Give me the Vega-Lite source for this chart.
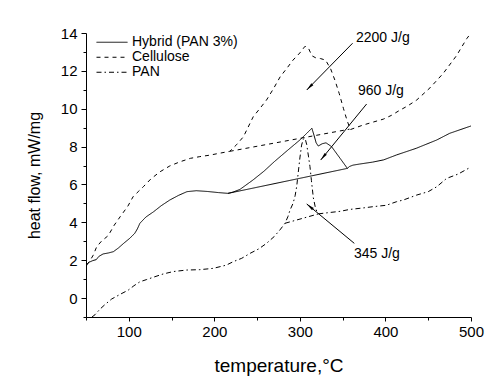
{
  "$schema": "https://vega.github.io/schema/vega-lite/v6.json",
  "width": 385,
  "height": 284,
  "autosize": {"type": "none"},
  "padding": {"left": 86, "top": 33, "right": 28, "bottom": 74},
  "background": "white",
  "config": {
    "view": {"stroke": null},
    "font": "Liberation Sans",
    "axis": {"grid": false, "domainColor": "black", "tickColor": "black", "labelColor": "black", "titleColor": "black", "titleFontWeight": "normal", "labelFont": "Liberation Sans", "titleFont": "Liberation Sans"}
  },
  "datasets": {
    "curves": [
      {"series": "Hybrid (PAN 3%)", "part": "curve", "x": 50, "y": 1.55},
      {"series": "Hybrid (PAN 3%)", "part": "curve", "x": 51, "y": 1.8},
      {"series": "Hybrid (PAN 3%)", "part": "curve", "x": 54, "y": 1.9},
      {"series": "Hybrid (PAN 3%)", "part": "curve", "x": 58, "y": 1.98},
      {"series": "Hybrid (PAN 3%)", "part": "curve", "x": 62, "y": 2.03},
      {"series": "Hybrid (PAN 3%)", "part": "curve", "x": 65, "y": 2.2},
      {"series": "Hybrid (PAN 3%)", "part": "curve", "x": 70, "y": 2.33},
      {"series": "Hybrid (PAN 3%)", "part": "curve", "x": 76, "y": 2.38},
      {"series": "Hybrid (PAN 3%)", "part": "curve", "x": 82, "y": 2.45},
      {"series": "Hybrid (PAN 3%)", "part": "curve", "x": 88, "y": 2.65},
      {"series": "Hybrid (PAN 3%)", "part": "curve", "x": 94, "y": 2.89},
      {"series": "Hybrid (PAN 3%)", "part": "curve", "x": 101, "y": 3.15},
      {"series": "Hybrid (PAN 3%)", "part": "curve", "x": 107, "y": 3.42},
      {"series": "Hybrid (PAN 3%)", "part": "curve", "x": 110, "y": 3.65},
      {"series": "Hybrid (PAN 3%)", "part": "curve", "x": 113, "y": 3.95},
      {"series": "Hybrid (PAN 3%)", "part": "curve", "x": 120, "y": 4.28},
      {"series": "Hybrid (PAN 3%)", "part": "curve", "x": 129, "y": 4.56},
      {"series": "Hybrid (PAN 3%)", "part": "curve", "x": 138, "y": 4.88},
      {"series": "Hybrid (PAN 3%)", "part": "curve", "x": 148, "y": 5.18},
      {"series": "Hybrid (PAN 3%)", "part": "curve", "x": 158, "y": 5.42},
      {"series": "Hybrid (PAN 3%)", "part": "curve", "x": 168, "y": 5.62},
      {"series": "Hybrid (PAN 3%)", "part": "curve", "x": 179, "y": 5.67},
      {"series": "Hybrid (PAN 3%)", "part": "curve", "x": 192, "y": 5.63},
      {"series": "Hybrid (PAN 3%)", "part": "curve", "x": 205, "y": 5.57},
      {"series": "Hybrid (PAN 3%)", "part": "curve", "x": 216, "y": 5.53},
      {"series": "Hybrid (PAN 3%)", "part": "curve", "x": 222, "y": 5.6},
      {"series": "Hybrid (PAN 3%)", "part": "curve", "x": 230, "y": 5.74},
      {"series": "Hybrid (PAN 3%)", "part": "curve", "x": 245, "y": 6.23},
      {"series": "Hybrid (PAN 3%)", "part": "curve", "x": 258, "y": 6.7},
      {"series": "Hybrid (PAN 3%)", "part": "curve", "x": 270, "y": 7.2},
      {"series": "Hybrid (PAN 3%)", "part": "curve", "x": 285, "y": 7.78},
      {"series": "Hybrid (PAN 3%)", "part": "curve", "x": 300, "y": 8.35},
      {"series": "Hybrid (PAN 3%)", "part": "curve", "x": 308, "y": 8.7},
      {"series": "Hybrid (PAN 3%)", "part": "curve", "x": 314, "y": 8.97},
      {"series": "Hybrid (PAN 3%)", "part": "curve", "x": 316.5, "y": 8.6},
      {"series": "Hybrid (PAN 3%)", "part": "curve", "x": 319, "y": 8.2},
      {"series": "Hybrid (PAN 3%)", "part": "curve", "x": 321.5, "y": 8.03},
      {"series": "Hybrid (PAN 3%)", "part": "curve", "x": 326, "y": 8.15},
      {"series": "Hybrid (PAN 3%)", "part": "curve", "x": 330.5, "y": 8.2},
      {"series": "Hybrid (PAN 3%)", "part": "curve", "x": 337, "y": 8.0},
      {"series": "Hybrid (PAN 3%)", "part": "curve", "x": 347, "y": 7.38},
      {"series": "Hybrid (PAN 3%)", "part": "curve", "x": 355.5, "y": 6.85},
      {"series": "Hybrid (PAN 3%)", "part": "curve", "x": 358, "y": 6.95},
      {"series": "Hybrid (PAN 3%)", "part": "curve", "x": 362, "y": 7.02},
      {"series": "Hybrid (PAN 3%)", "part": "curve", "x": 370, "y": 7.08},
      {"series": "Hybrid (PAN 3%)", "part": "curve", "x": 385, "y": 7.18},
      {"series": "Hybrid (PAN 3%)", "part": "curve", "x": 398, "y": 7.3},
      {"series": "Hybrid (PAN 3%)", "part": "curve", "x": 413, "y": 7.56},
      {"series": "Hybrid (PAN 3%)", "part": "curve", "x": 436, "y": 7.91},
      {"series": "Hybrid (PAN 3%)", "part": "curve", "x": 460, "y": 8.35},
      {"series": "Hybrid (PAN 3%)", "part": "curve", "x": 475, "y": 8.7},
      {"series": "Hybrid (PAN 3%)", "part": "curve", "x": 500, "y": 9.09},
      {"series": "Hybrid (PAN 3%)", "part": "base", "x": 216, "y": 5.53},
      {"series": "Hybrid (PAN 3%)", "part": "base", "x": 355.5, "y": 6.85},

      {"series": "Cellulose", "part": "curve", "x": 51, "y": 1.75},
      {"series": "Cellulose", "part": "curve", "x": 55, "y": 2.0},
      {"series": "Cellulose", "part": "curve", "x": 58.5, "y": 2.27},
      {"series": "Cellulose", "part": "curve", "x": 62.5, "y": 2.71},
      {"series": "Cellulose", "part": "curve", "x": 68, "y": 3.0},
      {"series": "Cellulose", "part": "curve", "x": 76, "y": 3.3},
      {"series": "Cellulose", "part": "curve", "x": 83, "y": 3.85},
      {"series": "Cellulose", "part": "curve", "x": 90, "y": 4.3},
      {"series": "Cellulose", "part": "curve", "x": 99, "y": 4.86},
      {"series": "Cellulose", "part": "curve", "x": 105, "y": 5.35},
      {"series": "Cellulose", "part": "curve", "x": 111, "y": 5.62},
      {"series": "Cellulose", "part": "curve", "x": 117, "y": 5.88},
      {"series": "Cellulose", "part": "curve", "x": 126, "y": 6.3},
      {"series": "Cellulose", "part": "curve", "x": 136.5, "y": 6.67},
      {"series": "Cellulose", "part": "curve", "x": 148, "y": 6.98},
      {"series": "Cellulose", "part": "curve", "x": 160, "y": 7.2},
      {"series": "Cellulose", "part": "curve", "x": 172, "y": 7.38},
      {"series": "Cellulose", "part": "curve", "x": 183, "y": 7.47},
      {"series": "Cellulose", "part": "curve", "x": 195, "y": 7.55},
      {"series": "Cellulose", "part": "curve", "x": 205, "y": 7.64},
      {"series": "Cellulose", "part": "curve", "x": 218, "y": 7.75},
      {"series": "Cellulose", "part": "curve", "x": 226, "y": 8.1},
      {"series": "Cellulose", "part": "curve", "x": 234, "y": 8.52},
      {"series": "Cellulose", "part": "curve", "x": 245.5, "y": 9.58},
      {"series": "Cellulose", "part": "curve", "x": 253, "y": 10.0},
      {"series": "Cellulose", "part": "curve", "x": 261, "y": 10.46},
      {"series": "Cellulose", "part": "curve", "x": 269, "y": 11.05},
      {"series": "Cellulose", "part": "curve", "x": 277, "y": 11.69},
      {"series": "Cellulose", "part": "curve", "x": 285, "y": 12.15},
      {"series": "Cellulose", "part": "curve", "x": 292, "y": 12.57},
      {"series": "Cellulose", "part": "curve", "x": 300, "y": 12.95},
      {"series": "Cellulose", "part": "curve", "x": 306, "y": 13.3},
      {"series": "Cellulose", "part": "curve", "x": 310, "y": 13.2},
      {"series": "Cellulose", "part": "curve", "x": 314, "y": 12.8},
      {"series": "Cellulose", "part": "curve", "x": 318, "y": 12.7},
      {"series": "Cellulose", "part": "curve", "x": 324, "y": 12.65},
      {"series": "Cellulose", "part": "curve", "x": 330, "y": 12.57},
      {"series": "Cellulose", "part": "curve", "x": 336, "y": 12.1},
      {"series": "Cellulose", "part": "curve", "x": 341, "y": 11.5},
      {"series": "Cellulose", "part": "curve", "x": 346, "y": 10.8},
      {"series": "Cellulose", "part": "curve", "x": 351, "y": 10.0},
      {"series": "Cellulose", "part": "curve", "x": 355, "y": 9.4},
      {"series": "Cellulose", "part": "curve", "x": 359, "y": 8.9},
      {"series": "Cellulose", "part": "curve", "x": 374, "y": 9.14},
      {"series": "Cellulose", "part": "curve", "x": 386, "y": 9.3},
      {"series": "Cellulose", "part": "curve", "x": 397.5, "y": 9.45},
      {"series": "Cellulose", "part": "curve", "x": 407, "y": 9.65},
      {"series": "Cellulose", "part": "curve", "x": 416, "y": 9.9},
      {"series": "Cellulose", "part": "curve", "x": 426, "y": 10.15},
      {"series": "Cellulose", "part": "curve", "x": 436.5, "y": 10.46},
      {"series": "Cellulose", "part": "curve", "x": 452, "y": 11.1},
      {"series": "Cellulose", "part": "curve", "x": 467.6, "y": 11.87},
      {"series": "Cellulose", "part": "curve", "x": 483, "y": 12.8},
      {"series": "Cellulose", "part": "curve", "x": 495, "y": 13.7},
      {"series": "Cellulose", "part": "curve", "x": 500, "y": 14.0},
      {"series": "Cellulose", "part": "base", "x": 218, "y": 7.75},
      {"series": "Cellulose", "part": "base", "x": 358, "y": 8.92},

      {"series": "PAN", "part": "curve", "x": 57, "y": -1.0},
      {"series": "PAN", "part": "curve", "x": 60.5, "y": -0.88},
      {"series": "PAN", "part": "curve", "x": 66, "y": -0.6},
      {"series": "PAN", "part": "curve", "x": 72, "y": -0.35},
      {"series": "PAN", "part": "curve", "x": 80, "y": -0.05},
      {"series": "PAN", "part": "curve", "x": 90, "y": 0.2},
      {"series": "PAN", "part": "curve", "x": 99.4, "y": 0.42},
      {"series": "PAN", "part": "curve", "x": 106, "y": 0.65},
      {"series": "PAN", "part": "curve", "x": 113, "y": 0.86},
      {"series": "PAN", "part": "curve", "x": 121, "y": 0.98},
      {"series": "PAN", "part": "curve", "x": 128.7, "y": 1.1},
      {"series": "PAN", "part": "curve", "x": 140, "y": 1.27},
      {"series": "PAN", "part": "curve", "x": 152, "y": 1.4},
      {"series": "PAN", "part": "curve", "x": 167.7, "y": 1.48},
      {"series": "PAN", "part": "curve", "x": 183, "y": 1.5},
      {"series": "PAN", "part": "curve", "x": 198.8, "y": 1.57},
      {"series": "PAN", "part": "curve", "x": 214, "y": 1.74},
      {"series": "PAN", "part": "curve", "x": 222, "y": 1.92},
      {"series": "PAN", "part": "curve", "x": 232, "y": 2.1},
      {"series": "PAN", "part": "curve", "x": 241.7, "y": 2.36},
      {"series": "PAN", "part": "curve", "x": 252, "y": 2.6},
      {"series": "PAN", "part": "curve", "x": 261, "y": 2.89},
      {"series": "PAN", "part": "curve", "x": 270, "y": 3.25},
      {"series": "PAN", "part": "curve", "x": 276.7, "y": 3.6},
      {"series": "PAN", "part": "curve", "x": 282.6, "y": 3.95},
      {"series": "PAN", "part": "curve", "x": 286, "y": 4.3},
      {"series": "PAN", "part": "curve", "x": 288.5, "y": 4.65},
      {"series": "PAN", "part": "curve", "x": 292, "y": 5.0},
      {"series": "PAN", "part": "curve", "x": 294.4, "y": 5.4},
      {"series": "PAN", "part": "curve", "x": 296.3, "y": 5.9},
      {"series": "PAN", "part": "curve", "x": 298, "y": 6.6},
      {"series": "PAN", "part": "curve", "x": 300, "y": 7.4},
      {"series": "PAN", "part": "curve", "x": 302, "y": 8.08},
      {"series": "PAN", "part": "curve", "x": 304, "y": 8.4},
      {"series": "PAN", "part": "curve", "x": 306, "y": 8.45},
      {"series": "PAN", "part": "curve", "x": 308, "y": 8.1},
      {"series": "PAN", "part": "curve", "x": 310, "y": 7.5},
      {"series": "PAN", "part": "curve", "x": 311.8, "y": 6.94},
      {"series": "PAN", "part": "curve", "x": 313.5, "y": 6.2},
      {"series": "PAN", "part": "curve", "x": 315.7, "y": 5.3},
      {"series": "PAN", "part": "curve", "x": 318, "y": 4.8},
      {"series": "PAN", "part": "curve", "x": 320, "y": 4.55},
      {"series": "PAN", "part": "curve", "x": 322, "y": 4.45},
      {"series": "PAN", "part": "curve", "x": 335, "y": 4.52},
      {"series": "PAN", "part": "curve", "x": 347, "y": 4.58},
      {"series": "PAN", "part": "curve", "x": 358, "y": 4.68},
      {"series": "PAN", "part": "curve", "x": 374, "y": 4.76},
      {"series": "PAN", "part": "curve", "x": 386, "y": 4.83},
      {"series": "PAN", "part": "curve", "x": 401, "y": 4.9},
      {"series": "PAN", "part": "curve", "x": 413, "y": 5.09},
      {"series": "PAN", "part": "curve", "x": 421, "y": 5.18},
      {"series": "PAN", "part": "curve", "x": 436.5, "y": 5.44},
      {"series": "PAN", "part": "curve", "x": 450, "y": 5.62},
      {"series": "PAN", "part": "curve", "x": 460, "y": 5.88},
      {"series": "PAN", "part": "curve", "x": 471.5, "y": 6.32},
      {"series": "PAN", "part": "curve", "x": 485, "y": 6.55},
      {"series": "PAN", "part": "curve", "x": 497, "y": 6.85},
      {"series": "PAN", "part": "curve", "x": 500, "y": 6.92},
      {"series": "PAN", "part": "base", "x": 282.6, "y": 3.95},
      {"series": "PAN", "part": "base", "x": 322, "y": 4.45}
    ],
    "notes": [
      {"label": "2200 J/g", "tx": 365.6, "ty": 13.74, "ax": 361.6, "ay": 13.46, "bx": 308, "by": 10.99},
      {"label": "960 J/g", "tx": 367.9, "ty": 10.95, "ax": 378, "ay": 10.25, "bx": 324.3, "by": 7.29},
      {"label": "345 J/g", "tx": 363.2, "ty": 2.33, "ax": 363.6, "ay": 2.89, "bx": 308, "by": 4.97}
    ]
  },
  "layer": [
    {
      "data": {"name": "curves"},
      "mark": {"type": "line", "color": "black", "strokeWidth": 1, "clip": true},
      "encoding": {
        "x": {"field": "x", "type": "quantitative",
          "scale": {"domain": [50, 500], "nice": false, "zero": false},
          "axis": {"title": "temperature,°C", "values": [50, 100, 150, 200, 250, 300, 350, 400, 450, 500], "tickCount": 30,
            "labelExpr": "datum.value % 100 === 0 ? format(datum.value, 'd') : ''",
            "tickSize": {"condition": {"test": "datum.value % 100 === 0", "value": 4}, "value": 3},
            "labelFlush": false, "labelOverlap": false, "labelFontSize": 15, "labelPadding": 3,
            "titleFontSize": 19, "titlePadding": 17}},
        "y": {"field": "y", "type": "quantitative",
          "scale": {"domain": [-1, 14], "nice": false, "zero": false},
          "axis": {"title": "heat flow, mW/mg", "values": [-1, 0, 1, 2, 3, 4, 5, 6, 7, 8, 9, 10, 11, 12, 13, 14], "tickCount": 30,
            "labelExpr": "(datum.value + 10) % 2 == 0 ? format(datum.value, 'd') : ''",
            "tickSize": {"condition": {"test": "(datum.value + 10) % 2 == 0", "value": 5}, "value": 3},
            "labelFlush": false, "labelOverlap": false, "labelFontSize": 15, "labelPadding": 4,
            "titleFontSize": 16, "titlePadding": 18}},
        "strokeDash": {"field": "series", "type": "nominal",
          "scale": {"domain": ["Hybrid (PAN 3%)", "Cellulose", "PAN"], "range": [[1, 0], [4, 4], [5, 3, 1.5, 3]]},
          "legend": {"orient": "none", "legendX": 10, "legendY": 2, "title": null, "padding": 0,
            "symbolType": "stroke", "symbolSize": 961, "symbolStrokeWidth": 1, "symbolStrokeColor": "black",
            "clipHeight": 14.5, "rowPadding": 0, "labelFontSize": 14, "labelFont": "Liberation Sans",
            "labelColor": "black", "labelOffset": 4}},
        "detail": {"field": "part", "type": "nominal"}
      }
    },
    {
      "data": {"name": "notes"},
      "mark": {"type": "rule", "color": "black", "strokeWidth": 1},
      "encoding": {
        "x": {"field": "ax", "type": "quantitative"},
        "y": {"field": "ay", "type": "quantitative"},
        "x2": {"field": "bx"},
        "y2": {"field": "by"}
      }
    },
    {
      "data": {"name": "notes"},
      "mark": {"type": "point", "shape": "M0,0L-0.35,2L0.35,2Z", "filled": true, "color": "black", "size": 64, "opacity": 1},
      "encoding": {
        "x": {"field": "bx", "type": "quantitative"},
        "y": {"field": "by", "type": "quantitative"},
        "angle": {"condition": [{"test": "datum.label === '2200 J/g'", "value": 224.6}, {"test": "datum.label === '960 J/g'", "value": 219.4}], "value": 309.5}
      }
    },
    {
      "data": {"name": "notes"},
      "mark": {"type": "text", "align": "left", "baseline": "middle", "fontSize": 14, "font": "Liberation Sans", "color": "black"},
      "encoding": {
        "x": {"field": "tx", "type": "quantitative"},
        "y": {"field": "ty", "type": "quantitative"},
        "text": {"field": "label"}
      }
    }
  ]
}
